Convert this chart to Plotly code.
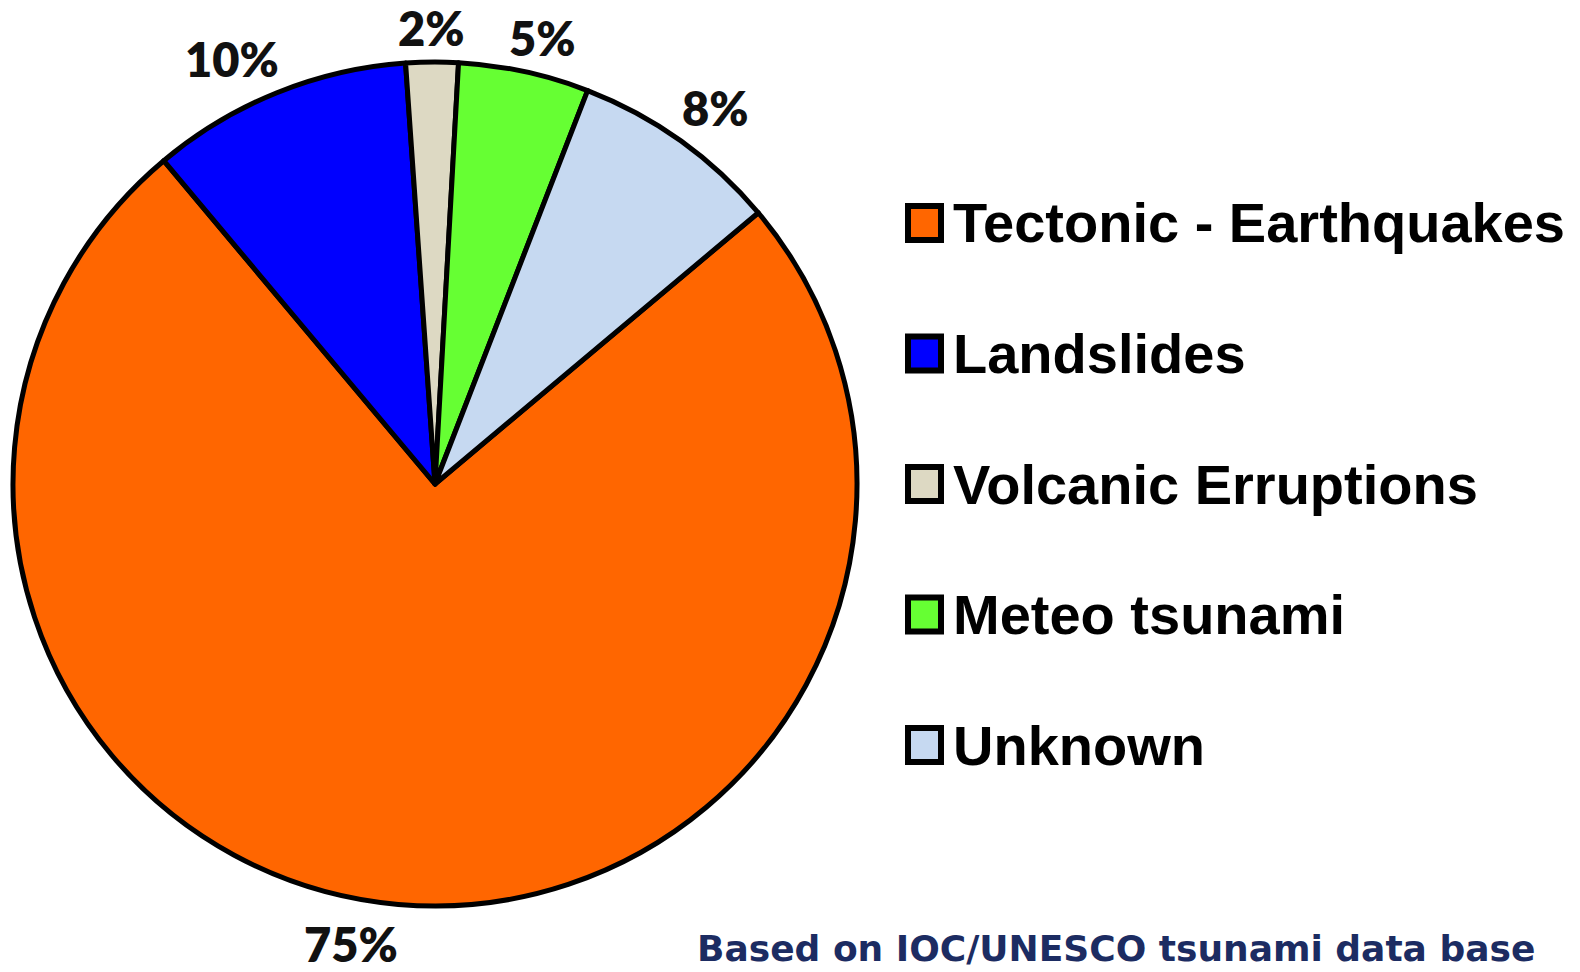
import math
import plotly.graph_objects as go

# Tsunami sources, share of recorded events
categories = ["Tectonic - Earthquakes", "Landslides", "Volcanic Erruptions",
              "Meteo tsunami", "Unknown"]
shares = [75, 10, 2, 5, 8]
colors = ["#FF6600", "#0000FF", "#DDD9C3", "#66FF33", "#C6D9F1"]
source_note = "Based on IOC/UNESCO tsunami data base"

W, H = 1580, 972

# pie geometry in pixels (centre and radius), start angle clockwise from 12 o'clock
CX, CY, R = 435, 484, 422
START = 50

fig = go.Figure(
    go.Pie(
        labels=categories,
        values=shares,
        sort=False,
        direction="clockwise",
        rotation=START,
        marker=dict(colors=colors, line=dict(color="#000000", width=5)),
        textinfo="none",
        showlegend=False,
        domain=dict(x=[(CX - R) / W, (CX + R) / W],
                    y=[1 - (CY + R) / H, 1 - (CY - R) / H]),
        hoverinfo="label+percent",
    )
)

annotations = []

# percentage labels outside each slice: anchored just beyond the rim on the
# slice's mid angle and pushed sideways away from the vertical axis;
# labels under the pie hang fully to the side of their anchor
LABEL_SIZE = 47
total = sum(shares)
cum = 0
for v in shares:
    mid = math.radians(START + 360 * (cum + v / 2) / total)
    cum += v
    s, c = math.sin(mid), math.cos(mid)
    txt = f"{round(100 * v / total)}%"
    text_w = LABEL_SIZE * (0.58 * (len(txt) - 1) + 0.8)
    if c > 0:
        side = math.copysign(min(1.0, abs(s) / 0.4), s)
        gap = 4
    else:
        side = math.copysign(1.0, s)
        gap = 10
    px = CX + (R + gap) * s + side * text_w / 2
    py = CY - (R + gap) * c
    annotations.append(dict(
        text=txt, xref="paper", yref="paper",
        x=px / W, y=1 - py / H, xanchor="center",
        yanchor="bottom" if c > 0 else "top",
        showarrow=False,
        font=dict(family="Lato", size=LABEL_SIZE, color="#111111", weight=800),
    ))

# legend: swatches + labels on the right
shapes = []
row0, row_step = 223, 130.5
for i, (name, col) in enumerate(zip(categories, colors)):
    cy = row0 + i * row_step
    shapes.append(dict(
        type="rect", xref="paper", yref="paper",
        x0=908 / W, x1=941 / W,
        y0=1 - (cy + 17) / H, y1=1 - (cy - 17) / H,
        fillcolor=col, line=dict(color="#000000", width=6),
    ))
    annotations.append(dict(
        text=name, xref="paper", yref="paper",
        x=951 / W, y=1 - cy / H, xanchor="left", yanchor="middle",
        showarrow=False,
        font=dict(family="Liberation Sans, Arial", size=56, color="#000000", weight=700),
    ))

annotations.append(dict(
    text=source_note, xref="paper", yref="paper",
    x=1537 / W, y=1 - 948 / H, xanchor="right", yanchor="middle",
    showarrow=False,
    font=dict(family="DejaVu Sans", size=36, color="#1C2C62", weight=700),
))

fig.update_layout(
    width=W, height=H,
    margin=dict(l=0, r=0, t=0, b=0),
    paper_bgcolor="#FFFFFF",
    plot_bgcolor="#FFFFFF",
    shapes=shapes,
    annotations=annotations,
)

fig.write_html("out.html")
